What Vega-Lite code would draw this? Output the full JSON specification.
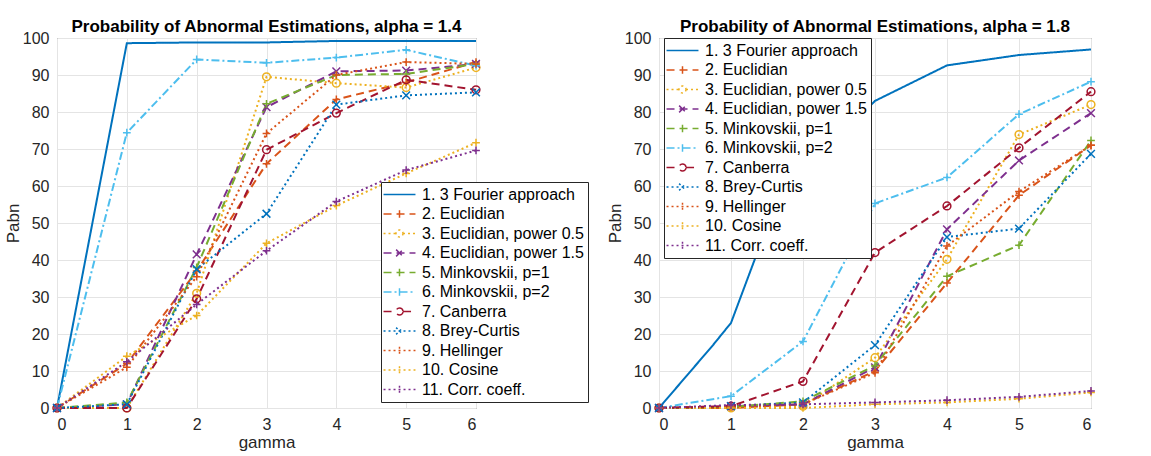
{
  "$schema": "https://vega.github.io/schema/vega-lite/v6.json",
  "background": "white",
  "padding": {"left": 3, "top": 17, "right": 5, "bottom": 2},
  "spacing": 183,
  "bounds": "flush",
  "resolve": {"scale": {"color": "independent", "shape": "independent", "strokeDash": "independent"}, "legend": {"color": "independent", "shape": "independent", "strokeDash": "independent"}},
  "config": {
    "font": "Liberation Sans",
    "view": {"stroke": "#5a5a5a", "strokeWidth": 1},
    "axis": {"labelFontSize": 16, "labelColor": "#262626", "titleFontSize": 17, "titleFontWeight": "normal", "titleColor": "#262626", "gridColor": "#e4e4e4", "domain": false, "ticks": false, "labelPadding": 8},
    "title": {"fontSize": 17, "fontWeight": "bold", "color": "#000000", "offset": -6, "frame": "group"},
    "legend": {"fillColor": "white", "strokeColor": "#262626", "padding": 4, "labelFontSize": 16, "labelColor": "#000000", "symbolSize": 225, "symbolOffset": 6, "symbolStrokeWidth": 1.5, "rowPadding": 2.5, "labelOffset": 14, "labelLimit": 0}
  },
  "datasets": {
    "d": [
      {"alpha":"1.4","series":"1. 3 Fourier approach","gamma":0,"Pabn":0},
      {"alpha":"1.4","series":"1. 3 Fourier approach","gamma":1,"Pabn":98.6},
      {"alpha":"1.4","series":"1. 3 Fourier approach","gamma":2,"Pabn":98.8},
      {"alpha":"1.4","series":"1. 3 Fourier approach","gamma":3,"Pabn":98.8},
      {"alpha":"1.4","series":"1. 3 Fourier approach","gamma":4,"Pabn":99.2},
      {"alpha":"1.4","series":"1. 3 Fourier approach","gamma":5,"Pabn":99.2},
      {"alpha":"1.4","series":"1. 3 Fourier approach","gamma":6,"Pabn":99.2},
      {"alpha":"1.4","series":"2. Euclidian","gamma":0,"Pabn":0},
      {"alpha":"1.4","series":"2. Euclidian","gamma":1,"Pabn":12},
      {"alpha":"1.4","series":"2. Euclidian","gamma":2,"Pabn":37},
      {"alpha":"1.4","series":"2. Euclidian","gamma":3,"Pabn":66},
      {"alpha":"1.4","series":"2. Euclidian","gamma":4,"Pabn":83.4},
      {"alpha":"1.4","series":"2. Euclidian","gamma":5,"Pabn":88},
      {"alpha":"1.4","series":"2. Euclidian","gamma":6,"Pabn":93.5},
      {"alpha":"1.4","series":"3. Euclidian, power 0.5","gamma":0,"Pabn":0},
      {"alpha":"1.4","series":"3. Euclidian, power 0.5","gamma":1,"Pabn":0},
      {"alpha":"1.4","series":"3. Euclidian, power 0.5","gamma":2,"Pabn":31},
      {"alpha":"1.4","series":"3. Euclidian, power 0.5","gamma":3,"Pabn":89.5},
      {"alpha":"1.4","series":"3. Euclidian, power 0.5","gamma":4,"Pabn":87.8},
      {"alpha":"1.4","series":"3. Euclidian, power 0.5","gamma":5,"Pabn":86.6},
      {"alpha":"1.4","series":"3. Euclidian, power 0.5","gamma":6,"Pabn":92},
      {"alpha":"1.4","series":"4. Euclidian, power 1.5","gamma":0,"Pabn":0},
      {"alpha":"1.4","series":"4. Euclidian, power 1.5","gamma":1,"Pabn":1},
      {"alpha":"1.4","series":"4. Euclidian, power 1.5","gamma":2,"Pabn":41.5},
      {"alpha":"1.4","series":"4. Euclidian, power 1.5","gamma":3,"Pabn":81.3},
      {"alpha":"1.4","series":"4. Euclidian, power 1.5","gamma":4,"Pabn":91},
      {"alpha":"1.4","series":"4. Euclidian, power 1.5","gamma":5,"Pabn":91.2},
      {"alpha":"1.4","series":"4. Euclidian, power 1.5","gamma":6,"Pabn":93},
      {"alpha":"1.4","series":"5. Minkovskii, p=1","gamma":0,"Pabn":0},
      {"alpha":"1.4","series":"5. Minkovskii, p=1","gamma":1,"Pabn":1.5},
      {"alpha":"1.4","series":"5. Minkovskii, p=1","gamma":2,"Pabn":38},
      {"alpha":"1.4","series":"5. Minkovskii, p=1","gamma":3,"Pabn":82.2},
      {"alpha":"1.4","series":"5. Minkovskii, p=1","gamma":4,"Pabn":90},
      {"alpha":"1.4","series":"5. Minkovskii, p=1","gamma":5,"Pabn":90.3},
      {"alpha":"1.4","series":"5. Minkovskii, p=1","gamma":6,"Pabn":93},
      {"alpha":"1.4","series":"6. Minkovskii, p=2","gamma":0,"Pabn":0},
      {"alpha":"1.4","series":"6. Minkovskii, p=2","gamma":1,"Pabn":74.4},
      {"alpha":"1.4","series":"6. Minkovskii, p=2","gamma":2,"Pabn":94.2},
      {"alpha":"1.4","series":"6. Minkovskii, p=2","gamma":3,"Pabn":93.3},
      {"alpha":"1.4","series":"6. Minkovskii, p=2","gamma":4,"Pabn":94.7},
      {"alpha":"1.4","series":"6. Minkovskii, p=2","gamma":5,"Pabn":96.8},
      {"alpha":"1.4","series":"6. Minkovskii, p=2","gamma":6,"Pabn":92.5},
      {"alpha":"1.4","series":"7. Canberra","gamma":0,"Pabn":0},
      {"alpha":"1.4","series":"7. Canberra","gamma":1,"Pabn":0},
      {"alpha":"1.4","series":"7. Canberra","gamma":2,"Pabn":29.5},
      {"alpha":"1.4","series":"7. Canberra","gamma":3,"Pabn":69.8},
      {"alpha":"1.4","series":"7. Canberra","gamma":4,"Pabn":79.7},
      {"alpha":"1.4","series":"7. Canberra","gamma":5,"Pabn":88.7},
      {"alpha":"1.4","series":"7. Canberra","gamma":6,"Pabn":86},
      {"alpha":"1.4","series":"8. Brey-Curtis","gamma":0,"Pabn":0},
      {"alpha":"1.4","series":"8. Brey-Curtis","gamma":1,"Pabn":1},
      {"alpha":"1.4","series":"8. Brey-Curtis","gamma":2,"Pabn":37.5},
      {"alpha":"1.4","series":"8. Brey-Curtis","gamma":3,"Pabn":52.5},
      {"alpha":"1.4","series":"8. Brey-Curtis","gamma":4,"Pabn":82},
      {"alpha":"1.4","series":"8. Brey-Curtis","gamma":5,"Pabn":84.5},
      {"alpha":"1.4","series":"8. Brey-Curtis","gamma":6,"Pabn":85.3},
      {"alpha":"1.4","series":"9. Hellinger","gamma":0,"Pabn":0},
      {"alpha":"1.4","series":"9. Hellinger","gamma":1,"Pabn":11},
      {"alpha":"1.4","series":"9. Hellinger","gamma":2,"Pabn":35.5},
      {"alpha":"1.4","series":"9. Hellinger","gamma":3,"Pabn":74.2},
      {"alpha":"1.4","series":"9. Hellinger","gamma":4,"Pabn":90},
      {"alpha":"1.4","series":"9. Hellinger","gamma":5,"Pabn":93.5},
      {"alpha":"1.4","series":"9. Hellinger","gamma":6,"Pabn":93},
      {"alpha":"1.4","series":"10. Cosine","gamma":0,"Pabn":0},
      {"alpha":"1.4","series":"10. Cosine","gamma":1,"Pabn":14},
      {"alpha":"1.4","series":"10. Cosine","gamma":2,"Pabn":25},
      {"alpha":"1.4","series":"10. Cosine","gamma":3,"Pabn":44.5},
      {"alpha":"1.4","series":"10. Cosine","gamma":4,"Pabn":54.7},
      {"alpha":"1.4","series":"10. Cosine","gamma":5,"Pabn":63.4},
      {"alpha":"1.4","series":"10. Cosine","gamma":6,"Pabn":71.7},
      {"alpha":"1.4","series":"11. Corr. coeff.","gamma":0,"Pabn":0},
      {"alpha":"1.4","series":"11. Corr. coeff.","gamma":1,"Pabn":12.5},
      {"alpha":"1.4","series":"11. Corr. coeff.","gamma":2,"Pabn":28},
      {"alpha":"1.4","series":"11. Corr. coeff.","gamma":3,"Pabn":42.5},
      {"alpha":"1.4","series":"11. Corr. coeff.","gamma":4,"Pabn":55.8},
      {"alpha":"1.4","series":"11. Corr. coeff.","gamma":5,"Pabn":64.3},
      {"alpha":"1.4","series":"11. Corr. coeff.","gamma":6,"Pabn":69.6},

      {"alpha":"1.8","series":"1. 3 Fourier approach","gamma":0,"Pabn":0},
      {"alpha":"1.8","series":"1. 3 Fourier approach","gamma":0.75,"Pabn":17},
      {"alpha":"1.8","series":"1. 3 Fourier approach","gamma":1,"Pabn":23},
      {"alpha":"1.8","series":"1. 3 Fourier approach","gamma":1.5,"Pabn":49},
      {"alpha":"1.8","series":"1. 3 Fourier approach","gamma":2,"Pabn":63},
      {"alpha":"1.8","series":"1. 3 Fourier approach","gamma":3,"Pabn":83},
      {"alpha":"1.8","series":"1. 3 Fourier approach","gamma":4,"Pabn":92.6},
      {"alpha":"1.8","series":"1. 3 Fourier approach","gamma":5,"Pabn":95.4},
      {"alpha":"1.8","series":"1. 3 Fourier approach","gamma":6,"Pabn":96.9},
      {"alpha":"1.8","series":"2. Euclidian","gamma":0,"Pabn":0},
      {"alpha":"1.8","series":"2. Euclidian","gamma":1,"Pabn":0},
      {"alpha":"1.8","series":"2. Euclidian","gamma":2,"Pabn":1},
      {"alpha":"1.8","series":"2. Euclidian","gamma":3,"Pabn":10},
      {"alpha":"1.8","series":"2. Euclidian","gamma":4,"Pabn":33.8},
      {"alpha":"1.8","series":"2. Euclidian","gamma":5,"Pabn":57.5},
      {"alpha":"1.8","series":"2. Euclidian","gamma":6,"Pabn":71},
      {"alpha":"1.8","series":"3. Euclidian, power 0.5","gamma":0,"Pabn":0},
      {"alpha":"1.8","series":"3. Euclidian, power 0.5","gamma":1,"Pabn":0},
      {"alpha":"1.8","series":"3. Euclidian, power 0.5","gamma":2,"Pabn":0.5},
      {"alpha":"1.8","series":"3. Euclidian, power 0.5","gamma":3,"Pabn":13.6},
      {"alpha":"1.8","series":"3. Euclidian, power 0.5","gamma":4,"Pabn":40.2},
      {"alpha":"1.8","series":"3. Euclidian, power 0.5","gamma":5,"Pabn":73.9},
      {"alpha":"1.8","series":"3. Euclidian, power 0.5","gamma":6,"Pabn":82},
      {"alpha":"1.8","series":"4. Euclidian, power 1.5","gamma":0,"Pabn":0},
      {"alpha":"1.8","series":"4. Euclidian, power 1.5","gamma":1,"Pabn":0.5},
      {"alpha":"1.8","series":"4. Euclidian, power 1.5","gamma":2,"Pabn":1},
      {"alpha":"1.8","series":"4. Euclidian, power 1.5","gamma":3,"Pabn":11},
      {"alpha":"1.8","series":"4. Euclidian, power 1.5","gamma":4,"Pabn":48.3},
      {"alpha":"1.8","series":"4. Euclidian, power 1.5","gamma":5,"Pabn":66.9},
      {"alpha":"1.8","series":"4. Euclidian, power 1.5","gamma":6,"Pabn":79.7},
      {"alpha":"1.8","series":"5. Minkovskii, p=1","gamma":0,"Pabn":0},
      {"alpha":"1.8","series":"5. Minkovskii, p=1","gamma":1,"Pabn":0.3},
      {"alpha":"1.8","series":"5. Minkovskii, p=1","gamma":2,"Pabn":1.8},
      {"alpha":"1.8","series":"5. Minkovskii, p=1","gamma":3,"Pabn":11.5},
      {"alpha":"1.8","series":"5. Minkovskii, p=1","gamma":4,"Pabn":35.6},
      {"alpha":"1.8","series":"5. Minkovskii, p=1","gamma":5,"Pabn":44},
      {"alpha":"1.8","series":"5. Minkovskii, p=1","gamma":6,"Pabn":72.3},
      {"alpha":"1.8","series":"6. Minkovskii, p=2","gamma":0,"Pabn":0},
      {"alpha":"1.8","series":"6. Minkovskii, p=2","gamma":1,"Pabn":3.2},
      {"alpha":"1.8","series":"6. Minkovskii, p=2","gamma":2,"Pabn":18},
      {"alpha":"1.8","series":"6. Minkovskii, p=2","gamma":3,"Pabn":55.3},
      {"alpha":"1.8","series":"6. Minkovskii, p=2","gamma":4,"Pabn":62.3},
      {"alpha":"1.8","series":"6. Minkovskii, p=2","gamma":5,"Pabn":79.4},
      {"alpha":"1.8","series":"6. Minkovskii, p=2","gamma":6,"Pabn":88.2},
      {"alpha":"1.8","series":"7. Canberra","gamma":0,"Pabn":0},
      {"alpha":"1.8","series":"7. Canberra","gamma":1,"Pabn":0.5},
      {"alpha":"1.8","series":"7. Canberra","gamma":2,"Pabn":7.2},
      {"alpha":"1.8","series":"7. Canberra","gamma":3,"Pabn":42},
      {"alpha":"1.8","series":"7. Canberra","gamma":4,"Pabn":54.6},
      {"alpha":"1.8","series":"7. Canberra","gamma":5,"Pabn":70.3},
      {"alpha":"1.8","series":"7. Canberra","gamma":6,"Pabn":85.5},
      {"alpha":"1.8","series":"8. Brey-Curtis","gamma":0,"Pabn":0},
      {"alpha":"1.8","series":"8. Brey-Curtis","gamma":1,"Pabn":0.5},
      {"alpha":"1.8","series":"8. Brey-Curtis","gamma":2,"Pabn":1.5},
      {"alpha":"1.8","series":"8. Brey-Curtis","gamma":3,"Pabn":17},
      {"alpha":"1.8","series":"8. Brey-Curtis","gamma":4,"Pabn":46.2},
      {"alpha":"1.8","series":"8. Brey-Curtis","gamma":5,"Pabn":48.5},
      {"alpha":"1.8","series":"8. Brey-Curtis","gamma":6,"Pabn":68.7},
      {"alpha":"1.8","series":"9. Hellinger","gamma":0,"Pabn":0},
      {"alpha":"1.8","series":"9. Hellinger","gamma":1,"Pabn":0.3},
      {"alpha":"1.8","series":"9. Hellinger","gamma":2,"Pabn":1},
      {"alpha":"1.8","series":"9. Hellinger","gamma":3,"Pabn":9.5},
      {"alpha":"1.8","series":"9. Hellinger","gamma":4,"Pabn":43.8},
      {"alpha":"1.8","series":"9. Hellinger","gamma":5,"Pabn":58.5},
      {"alpha":"1.8","series":"9. Hellinger","gamma":6,"Pabn":71},
      {"alpha":"1.8","series":"10. Cosine","gamma":0,"Pabn":0},
      {"alpha":"1.8","series":"10. Cosine","gamma":1,"Pabn":0},
      {"alpha":"1.8","series":"10. Cosine","gamma":2,"Pabn":0},
      {"alpha":"1.8","series":"10. Cosine","gamma":3,"Pabn":1},
      {"alpha":"1.8","series":"10. Cosine","gamma":4,"Pabn":1.5},
      {"alpha":"1.8","series":"10. Cosine","gamma":5,"Pabn":2.5},
      {"alpha":"1.8","series":"10. Cosine","gamma":6,"Pabn":4.2},
      {"alpha":"1.8","series":"11. Corr. coeff.","gamma":0,"Pabn":0},
      {"alpha":"1.8","series":"11. Corr. coeff.","gamma":1,"Pabn":0.8},
      {"alpha":"1.8","series":"11. Corr. coeff.","gamma":2,"Pabn":1},
      {"alpha":"1.8","series":"11. Corr. coeff.","gamma":3,"Pabn":1.5},
      {"alpha":"1.8","series":"11. Corr. coeff.","gamma":4,"Pabn":2.1},
      {"alpha":"1.8","series":"11. Corr. coeff.","gamma":5,"Pabn":3},
      {"alpha":"1.8","series":"11. Corr. coeff.","gamma":6,"Pabn":4.6}
    ]
  },
  "hconcat": [
    {
      "width": 419,
      "height": 370,
      "title": {"text": "Probability of Abnormal Estimations, alpha = 1.4"},
      "data": {"name": "d"},
      "transform": [{"filter": "datum.alpha == '1.4'"}],
      "encoding": {
        "x": {"field": "gamma", "type": "quantitative", "scale": {"domain": [0, 6], "nice": false}, "axis": {"values": [0, 1, 2, 3, 4, 5, 6], "title": "gamma", "format": "d", "titlePadding": 2}},
        "y": {"field": "Pabn", "type": "quantitative", "scale": {"domain": [0, 100]}, "axis": {"values": [0, 10, 20, 30, 40, 50, 60, 70, 80, 90, 100], "title": "Pabn", "titlePadding": 0}},
        "color": {
          "field": "series", "type": "nominal",
          "scale": {"domain": ["1. 3 Fourier approach", "2. Euclidian", "3. Euclidian, power 0.5", "4. Euclidian, power 1.5", "5. Minkovskii, p=1", "6. Minkovskii, p=2", "7. Canberra", "8. Brey-Curtis", "9. Hellinger", "10. Cosine", "11. Corr. coeff."],
                    "range": ["#0072BD", "#D95319", "#EDB120", "#7E2F8E", "#77AC30", "#4DBEEE", "#A2142F", "#0072BD", "#D95319", "#EDB120", "#7E2F8E"]},
          "legend": {
            "title": null, "orient": "none", "legendX": 324, "legendY": 144,
            "encoding": {"symbols": {
              "fill": {"value": "transparent"},
              "opacity": {"value": 1},
              "size": {"value": 225},
              "shape": {"value": {"expr": "['M-2.13,0H2.13','M-2.13,0H2.13M0,-0.5V0.5','M-2.13,0H-0.47M0.47,0H2.13M0.47,0A0.47,0.47 0 1,1 -0.47,0A0.47,0.47 0 1,1 0.47,0','M-2.13,0H2.13M-0.45,-0.45L0.45,0.45M-0.45,0.45L0.45,-0.45','M-2.13,0H2.13M0,-0.5V0.5','M-2.13,0H2.13M0,-0.5V0.5','M-2.13,0H-0.47M0.47,0H2.13M0.47,0A0.47,0.47 0 1,1 -0.47,0A0.47,0.47 0 1,1 0.47,0','M-2.13,0H2.13M-0.45,-0.45L0.45,0.45M-0.45,0.45L0.45,-0.45','M-2.13,0H2.13M0,-0.5V0.5','M-2.13,0H2.13M0,-0.5V0.5','M-2.13,0H2.13M0,-0.5V0.5'][indexof(['1. 3 Fourier approach','2. Euclidian','3. Euclidian, power 0.5','4. Euclidian, power 1.5','5. Minkovskii, p=1','6. Minkovskii, p=2','7. Canberra','8. Brey-Curtis','9. Hellinger','10. Cosine','11. Corr. coeff.'], datum.value)]"}},
              "strokeDash": {"value": {"expr": "[[1,0],[8,5],[2,3],[8,5],[8,5],[8,3,2,3],[8,5],[2,3],[2,3],[2,3],[2,3]][indexof(['1. 3 Fourier approach','2. Euclidian','3. Euclidian, power 0.5','4. Euclidian, power 1.5','5. Minkovskii, p=1','6. Minkovskii, p=2','7. Canberra','8. Brey-Curtis','9. Hellinger','10. Cosine','11. Corr. coeff.'], datum.value)]"}}
            }}
          }
        }
      },
      "layer": [
        {
          "mark": {"type": "line", "strokeWidth": 2},
          "encoding": {
            "strokeDash": {"field": "series", "type": "nominal", "legend": null,
              "scale": {"domain": ["11. Corr. coeff.", "10. Cosine", "9. Hellinger", "8. Brey-Curtis", "7. Canberra", "6. Minkovskii, p=2", "5. Minkovskii, p=1", "4. Euclidian, power 1.5", "3. Euclidian, power 0.5", "2. Euclidian", "1. 3 Fourier approach"],
                        "range": [[2, 3], [2, 3], [2, 3], [2, 3], [8, 5], [8, 3, 2, 3], [8, 5], [8, 5], [2, 3], [8, 5], [1, 0]]}},
            "order": {"field": "gamma", "type": "quantitative"}
          }
        },
        {
          "transform": [{"filter": "datum.series != '1. 3 Fourier approach'"}],
          "mark": {"type": "point", "filled": false, "strokeWidth": 1.5, "size": 60, "opacity": 1},
          "encoding": {
            "shape": {"field": "series", "type": "nominal", "legend": null,
              "scale": {"domain": ["2. Euclidian", "3. Euclidian, power 0.5", "4. Euclidian, power 1.5", "5. Minkovskii, p=1", "6. Minkovskii, p=2", "7. Canberra", "8. Brey-Curtis", "9. Hellinger", "10. Cosine", "11. Corr. coeff.", "1. 3 Fourier approach"],
                        "range": ["M-1,0H1M0,-1V1", "circle", "M-1,-1L1,1M-1,1L1,-1", "M-1,0H1M0,-1V1", "M-1,0H1M0,-1V1", "circle", "M-1,-1L1,1M-1,1L1,-1", "M-1,0H1M0,-1V1", "M-1,0H1M0,-1V1", "M-1,0H1M0,-1V1", "circle"]}}
          }
        }
      ]
    },
    {
      "width": 432,
      "height": 370,
      "title": {"text": "Probability of Abnormal Estimations, alpha = 1.8"},
      "data": {"name": "d"},
      "transform": [{"filter": "datum.alpha == '1.8'"}],
      "encoding": {
        "x": {"field": "gamma", "type": "quantitative", "scale": {"domain": [0, 6], "nice": false}, "axis": {"values": [0, 1, 2, 3, 4, 5, 6], "title": "gamma", "format": "d", "titlePadding": 2}},
        "y": {"field": "Pabn", "type": "quantitative", "scale": {"domain": [0, 100]}, "axis": {"values": [0, 10, 20, 30, 40, 50, 60, 70, 80, 90, 100], "title": "Pabn", "titlePadding": 0}},
        "color": {
          "field": "series", "type": "nominal",
          "scale": {"domain": ["1. 3 Fourier approach", "2. Euclidian", "3. Euclidian, power 0.5", "4. Euclidian, power 1.5", "5. Minkovskii, p=1", "6. Minkovskii, p=2", "7. Canberra", "8. Brey-Curtis", "9. Hellinger", "10. Cosine", "11. Corr. coeff."],
                    "range": ["#0072BD", "#D95319", "#EDB120", "#7E2F8E", "#77AC30", "#4DBEEE", "#A2142F", "#0072BD", "#D95319", "#EDB120", "#7E2F8E"]},
          "legend": {
            "title": null, "orient": "none", "legendX": 5, "legendY": 0,
            "encoding": {"symbols": {
              "fill": {"value": "transparent"},
              "opacity": {"value": 1},
              "size": {"value": 225},
              "shape": {"value": {"expr": "['M-2.13,0H2.13','M-2.13,0H2.13M0,-0.5V0.5','M-2.13,0H-0.47M0.47,0H2.13M0.47,0A0.47,0.47 0 1,1 -0.47,0A0.47,0.47 0 1,1 0.47,0','M-2.13,0H2.13M-0.45,-0.45L0.45,0.45M-0.45,0.45L0.45,-0.45','M-2.13,0H2.13M0,-0.5V0.5','M-2.13,0H2.13M0,-0.5V0.5','M-2.13,0H-0.47M0.47,0H2.13M0.47,0A0.47,0.47 0 1,1 -0.47,0A0.47,0.47 0 1,1 0.47,0','M-2.13,0H2.13M-0.45,-0.45L0.45,0.45M-0.45,0.45L0.45,-0.45','M-2.13,0H2.13M0,-0.5V0.5','M-2.13,0H2.13M0,-0.5V0.5','M-2.13,0H2.13M0,-0.5V0.5'][indexof(['1. 3 Fourier approach','2. Euclidian','3. Euclidian, power 0.5','4. Euclidian, power 1.5','5. Minkovskii, p=1','6. Minkovskii, p=2','7. Canberra','8. Brey-Curtis','9. Hellinger','10. Cosine','11. Corr. coeff.'], datum.value)]"}},
              "strokeDash": {"value": {"expr": "[[1,0],[8,5],[2,3],[8,5],[8,5],[8,3,2,3],[8,5],[2,3],[2,3],[2,3],[2,3]][indexof(['1. 3 Fourier approach','2. Euclidian','3. Euclidian, power 0.5','4. Euclidian, power 1.5','5. Minkovskii, p=1','6. Minkovskii, p=2','7. Canberra','8. Brey-Curtis','9. Hellinger','10. Cosine','11. Corr. coeff.'], datum.value)]"}}
            }}
          }
        }
      },
      "layer": [
        {
          "mark": {"type": "line", "strokeWidth": 2},
          "encoding": {
            "strokeDash": {"field": "series", "type": "nominal", "legend": null,
              "scale": {"domain": ["11. Corr. coeff.", "10. Cosine", "9. Hellinger", "8. Brey-Curtis", "7. Canberra", "6. Minkovskii, p=2", "5. Minkovskii, p=1", "4. Euclidian, power 1.5", "3. Euclidian, power 0.5", "2. Euclidian", "1. 3 Fourier approach"],
                        "range": [[2, 3], [2, 3], [2, 3], [2, 3], [8, 5], [8, 3, 2, 3], [8, 5], [8, 5], [2, 3], [8, 5], [1, 0]]}},
            "order": {"field": "gamma", "type": "quantitative"}
          }
        },
        {
          "transform": [{"filter": "datum.series != '1. 3 Fourier approach'"}],
          "mark": {"type": "point", "filled": false, "strokeWidth": 1.5, "size": 60, "opacity": 1},
          "encoding": {
            "shape": {"field": "series", "type": "nominal", "legend": null,
              "scale": {"domain": ["2. Euclidian", "3. Euclidian, power 0.5", "4. Euclidian, power 1.5", "5. Minkovskii, p=1", "6. Minkovskii, p=2", "7. Canberra", "8. Brey-Curtis", "9. Hellinger", "10. Cosine", "11. Corr. coeff.", "1. 3 Fourier approach"],
                        "range": ["M-1,0H1M0,-1V1", "circle", "M-1,-1L1,1M-1,1L1,-1", "M-1,0H1M0,-1V1", "M-1,0H1M0,-1V1", "circle", "M-1,-1L1,1M-1,1L1,-1", "M-1,0H1M0,-1V1", "M-1,0H1M0,-1V1", "M-1,0H1M0,-1V1", "circle"]}}
          }
        }
      ]
    }
  ]
}
